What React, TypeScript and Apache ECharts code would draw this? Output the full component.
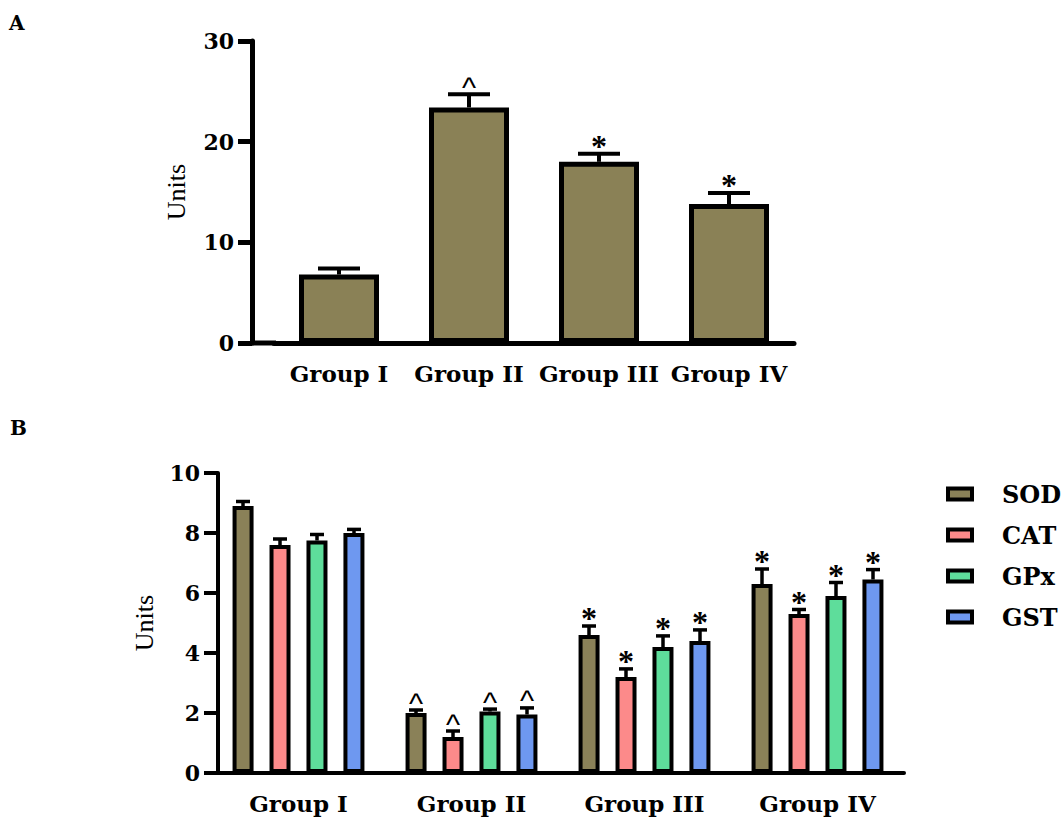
import React, { useEffect, useRef } from "react";
import * as echarts from "echarts";

// ---------- data ----------
const groups = ["Group I", "Group II", "Group III", "Group IV"];

// Panel A
const panelAValues = [6.8, 23.4, 18.0, 13.8];
const panelAErrors = [0.6, 1.3, 0.8, 1.1];
const panelAMarks = ["", "^", "*", "*"];
const panelATicks = [0, 10, 20, 30];

// Panel B
const enzymes = ["SOD", "CAT", "GPx", "GST"];
const sodValues = [8.9, 2.0, 4.6, 6.3];
const catValues = [7.6, 1.2, 3.2, 5.3];
const gpxValues = [7.75, 2.05, 4.2, 5.9];
const gstValues = [8.0, 1.95, 4.4, 6.45];
const sodErrors = [0.15, 0.1, 0.3, 0.5];
const catErrors = [0.2, 0.2, 0.27, 0.15];
const gpxErrors = [0.2, 0.08, 0.37, 0.45];
const gstErrors = [0.12, 0.22, 0.37, 0.33];
const panelBMarks = ["", "^", "*", "*"];
const panelBTicks = [0, 2, 4, 6, 8, 10];

const enzymeColors = ["#8a8158", "#fc8a8a", "#5edd9b", "#6e98f0"];
const panelAColor = "#8a8156";

const LABEL_FONT = "'DejaVu Serif', serif";
const TITLE_FONT = "'Liberation Serif', 'Times New Roman', serif";
const CARET_FONT = "'Liberation Sans', Arial, sans-serif";

function errorSeries(
  name: string,
  values: number[],
  errors: number[],
  marks: string[],
  axisIndex: number,
  offset: number,
  capHalf: number,
  lw: number
) {
  return {
    type: "custom",
    name,
    xAxisIndex: axisIndex,
    yAxisIndex: axisIndex,
    z: 5,
    silent: true,
    data: values.map((v, i) => [i, v, errors[i]]),
    renderItem: (params: any, api: any) => {
      const i = api.value(0);
      const v = api.value(1);
      const e = api.value(2);
      const base = api.coord([i, v]);
      const top = api.coord([i, v + e]);
      const x = base[0] + offset;
      const mark = marks[params.dataIndex];
      const children: any[] = [
        {
          type: "line",
          shape: { x1: x, y1: base[1], x2: x, y2: top[1] },
          style: { stroke: "#000", lineWidth: lw },
        },
        {
          type: "line",
          shape: { x1: x - capHalf, y1: top[1], x2: x + capHalf, y2: top[1] },
          style: { stroke: "#000", lineWidth: lw },
        },
      ];
      if (mark) {
        const isCaret = mark === "^";
        children.push({
          type: "text",
          x: x,
          y: top[1] - (isCaret ? 7 : 8),
          style: {
            text: mark,
            fill: "#000",
            font: isCaret ? `normal 30px ${CARET_FONT}` : `bold 32px ${TITLE_FONT}`,
            align: "center",
            verticalAlign: "middle",
          },
        });
      }
      return { type: "group", children };
    },
  };
}

export default function App() {
  const ref = useRef<HTMLDivElement>(null);

  useEffect(() => {
    document.body.style.margin = "0";
    if (!ref.current) return;
    const chart = echarts.init(ref.current, null, { renderer: "svg" });

    const axisLabelStyle = {
      fontFamily: LABEL_FONT,
      fontWeight: "bold" as const,
      color: "#000",
    };

    const bValues = [sodValues, catValues, gpxValues, gstValues];
    const bErrors = [sodErrors, catErrors, gpxErrors, gstErrors];
    const pitchB = 37;

    const option: any = {
      animation: false,
      backgroundColor: "#fff",
      grid: [
        { left: 274, top: 41, width: 520, height: 302 },
        { left: 212, top: 473, width: 692, height: 300 },
      ],
      xAxis: [
        {
          type: "category",
          gridIndex: 0,
          data: groups,
          axisLine: { lineStyle: { color: "#000", width: 5 } },
          axisTick: { alignWithLabel: true, length: 12, lineStyle: { color: "#000", width: 5 } },
          axisLabel: { ...axisLabelStyle, fontSize: 23, margin: 19, interval: 0 },
          splitLine: { show: false },
        },
        {
          type: "category",
          gridIndex: 1,
          data: groups,
          axisLine: { lineStyle: { color: "#000", width: 4 } },
          axisTick: { alignWithLabel: true, length: 12, lineStyle: { color: "#000", width: 4 } },
          axisLabel: { ...axisLabelStyle, fontSize: 23, margin: 19, interval: 0 },
          splitLine: { show: false },
        },
      ],
      yAxis: [
        {
          type: "value",
          gridIndex: 0,
          min: panelATicks[0],
          max: panelATicks[panelATicks.length - 1],
          interval: 10,
          offset: 22,
          name: "Units",
          nameLocation: "middle",
          nameRotate: 90,
          nameGap: 63,
          nameTextStyle: { fontFamily: TITLE_FONT, fontSize: 26, color: "#000" },
          axisLine: { show: true, lineStyle: { color: "#000", width: 5 } },
          axisTick: { show: true, length: 14, lineStyle: { color: "#000", width: 5 } },
          axisLabel: { ...axisLabelStyle, fontSize: 22, margin: 18 },
          splitLine: { show: false },
        },
        {
          type: "value",
          gridIndex: 1,
          min: panelBTicks[0],
          max: panelBTicks[panelBTicks.length - 1],
          interval: 2,
          offset: -6,
          name: "Units",
          nameLocation: "middle",
          nameRotate: 90,
          nameGap: 61,
          nameTextStyle: { fontFamily: TITLE_FONT, fontSize: 26, color: "#000" },
          axisLine: { show: true, lineStyle: { color: "#000", width: 4 } },
          axisTick: { show: true, length: 14, lineStyle: { color: "#000", width: 4 } },
          axisLabel: { ...axisLabelStyle, fontSize: 22, margin: 18 },
          splitLine: { show: false },
        },
      ],
      legend: {
        data: enzymes,
        orient: "vertical",
        left: 946,
        top: 481,
        padding: 0,
        itemWidth: 24,
        itemHeight: 11,
        itemGap: 15,
        icon: "rect",
        selectedMode: false,
        itemStyle: { borderColor: "#000", borderWidth: 4 },
        textStyle: {
          fontFamily: LABEL_FONT,
          fontWeight: "bold",
          fontSize: 24,
          lineHeight: 26,
          color: "#000",
          padding: [0, 0, 0, 25],
        },
      },
      graphic: [
        {
          type: "text",
          left: 9,
          top: 13,
          style: { text: "A", font: `bold 20px ${LABEL_FONT}`, fill: "#000" },
        },
        {
          type: "text",
          left: 10,
          top: 418,
          style: { text: "B", font: `bold 20px ${LABEL_FONT}`, fill: "#000" },
        },
        {
          type: "line",
          shape: { x1: 250, y1: 343, x2: 276, y2: 343 },
          style: { stroke: "#000", lineWidth: 5 },
        },
      ],
      series: [
        {
          type: "bar",
          name: "Panel A",
          xAxisIndex: 0,
          yAxisIndex: 0,
          data: panelAValues,
          barWidth: 80,
          itemStyle: { color: panelAColor, borderColor: "#000", borderWidth: 5 },
        },
        errorSeries("Panel A error", panelAValues, panelAErrors, panelAMarks, 0, 0, 21, 4),
        ...enzymes.map((name, k) => ({
          type: "bar",
          name,
          xAxisIndex: 1,
          yAxisIndex: 1,
          data: bValues[k],
          barWidth: 21,
          barGap: "76%",
          itemStyle: { color: enzymeColors[k], borderColor: "#000", borderWidth: 4 },
        })),
        ...enzymes.map((name, k) =>
          errorSeries(
            name + " error",
            bValues[k],
            bErrors[k],
            panelBMarks,
            1,
            (k - 1.5) * pitchB,
            7,
            3.5
          )
        ),
      ],
    };

    chart.setOption(option);
    return () => chart.dispose();
  }, []);

  return <div ref={ref} style={{ width: 1061, height: 817 }} />;
}
